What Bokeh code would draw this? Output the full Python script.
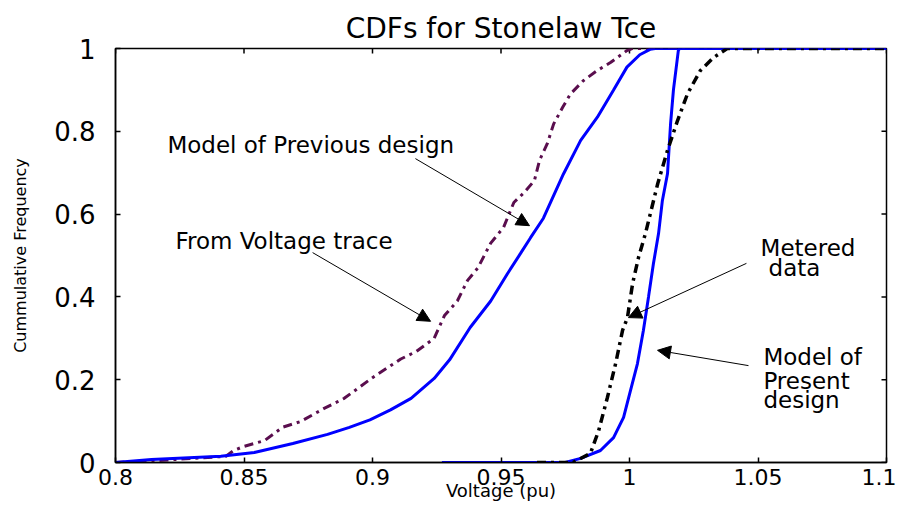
from bokeh.plotting import figure
from bokeh.models import Range1d, FixedTicker, Arrow, NormalHead, ColumnDataSource, Label
from bokeh.embed import file_html
from bokeh.resources import INLINE

# ---- data ----
trace_x = [0.800, 0.815, 0.830, 0.843, 0.846, 0.850, 0.858, 0.865, 0.872, 0.881, 0.889, 0.900,
           0.911, 0.917, 0.924, 0.928, 0.933, 0.937, 0.941, 0.946, 0.951, 0.955, 0.959, 0.963,
           0.965, 0.968, 0.9705, 0.974, 0.977, 0.982, 0.9875, 0.9926, 0.999, 1.001, 1.100]
trace_y = [0.000, 0.004, 0.010, 0.015, 0.029, 0.039, 0.053, 0.085, 0.099, 0.130, 0.155, 0.205,
           0.250, 0.268, 0.300, 0.355, 0.390, 0.440, 0.470, 0.530, 0.568, 0.628, 0.652, 0.681,
           0.730, 0.770, 0.818, 0.858, 0.890, 0.922, 0.947, 0.966, 0.995, 1.000, 1.000]

prev_x = [0.800, 0.814, 0.841, 0.854, 0.869, 0.8825, 0.891, 0.899, 0.907, 0.915, 0.924, 0.930,
          0.938, 0.946, 0.9525, 0.9576, 0.9615, 0.9665, 0.9743, 0.981, 0.9875, 0.9938, 0.999,
          1.004, 1.008, 1.010, 1.100]
prev_y = [0.000, 0.007, 0.015, 0.024, 0.046, 0.068, 0.085, 0.103, 0.127, 0.155, 0.203, 0.248,
          0.326, 0.390, 0.456, 0.505, 0.543, 0.590, 0.697, 0.778, 0.834, 0.900, 0.955,
          0.985, 0.998, 1.000, 1.000]

pres_x = [0.927, 0.975, 0.981, 0.9887, 0.9938, 0.9977, 1.0004, 1.0031, 1.0054, 1.0074, 1.0093,
          1.0113, 1.0128, 1.0148, 1.016, 1.0171, 1.019, 1.0195, 1.100]
pres_y = [0.000, 0.000, 0.010, 0.029, 0.060, 0.109, 0.174, 0.239, 0.319, 0.400, 0.480,
          0.553, 0.633, 0.698, 0.820, 0.900, 0.995, 1.000, 1.000]

meter_x = [0.964, 0.978, 0.9848, 0.988, 0.9914, 0.9946, 0.9973, 0.9992, 1.0012, 1.0035, 1.0062,
           1.011, 1.0148, 1.0187, 1.0226, 1.0276, 1.0327, 1.038, 1.100]
meter_y = [0.000, 0.000, 0.022, 0.077, 0.157, 0.239, 0.319, 0.350, 0.432, 0.495, 0.553,
           0.674, 0.754, 0.826, 0.891, 0.947, 0.978, 1.000, 1.000]

x_ticks = [0.8, 0.85, 0.9, 0.95, 1.0, 1.05, 1.1]
x_tick_labels = ["0.8", "0.85", "0.9", "0.95", "1", "1.05", "1.1"]
y_ticks = [0.0, 0.2, 0.4, 0.6, 0.8, 1.0]
y_tick_labels = ["0", "0.2", "0.4", "0.6", "0.8", "1"]

title_text = "CDFs for Stonelaw Tce"
x_label = "Voltage (pu)"
y_label = "Cummulative Frequency"

note_texts = ["Model of Previous design", "From Voltage trace", "Metered", "data",
              "Model of", "Present", "design"]
note_x = [0.8202, 0.8233, 1.051, 1.0541, 1.0521, 1.0521, 1.0521]
note_y = [0.768, 0.534, 0.519, 0.469, 0.254, 0.198, 0.150]

arrow_x0 = [0.9167, 0.8767, 1.0455, 1.0463]
arrow_y0 = [0.734, 0.507, 0.481, 0.234]
arrow_x1 = [0.9611, 0.9226, 0.9996, 1.0109]
arrow_y1 = [0.572, 0.341, 0.350, 0.271]

FONT = "DejaVu Sans"
X0, X1, Y0, Y1 = 0.8, 1.1, 0.0, 1.0
TICK_DY = 0.0121   # ~5 px inward
TICK_DX = 0.00195  # ~5 px inward

p = figure(width=896, height=507, output_backend="svg", toolbar_location=None,
           x_range=Range1d(X0, X1), y_range=Range1d(Y0, Y1),
           min_border_left=115, min_border_right=10, min_border_top=48, min_border_bottom=45)
p.background_fill_color = "white"
p.border_fill_color = "white"
p.grid.visible = False
p.outline_line_color = "black"
p.outline_line_width = 1.5

p.title.text = title_text
p.title.text_font = FONT
p.title.text_font_size = "28px"
p.title.text_font_style = "normal"
p.title.text_color = "black"
p.title.align = "center"
p.title.standoff = 8

for ax, ticks, labels in ((p.xaxis[0], x_ticks, x_tick_labels), (p.yaxis[0], y_ticks, y_tick_labels)):
    ax.ticker = FixedTicker(ticks=ticks)
    ax.major_label_overrides = {t: l for t, l in zip(ticks, labels)}
    ax.major_tick_in = 5
    ax.major_tick_out = 0
    ax.minor_tick_line_color = None
    ax.axis_line_width = 1.5
    ax.major_tick_line_width = 1.5
    ax.major_label_text_font = FONT
    ax.major_label_text_color = "black"
    ax.axis_label_text_font = FONT
    ax.axis_label_text_font_style = "normal"
    ax.axis_label_text_color = "black"

p.xaxis[0].major_label_text_font_size = "22px"
p.xaxis[0].major_label_standoff = 6
p.xaxis[0].axis_label = x_label
p.xaxis[0].axis_label_text_font_size = "18px"
p.xaxis[0].axis_label_standoff = -8

p.yaxis[0].major_label_text_font_size = "26px"
p.yaxis[0].major_label_standoff = 20
p.yaxis[0].axis_label = y_label
p.yaxis[0].axis_label_text_font_size = "16px"
p.yaxis[0].axis_label_standoff = 21

# inward ticks on the top and right edges (box style)
p.segment(x0=x_ticks, y0=[Y1] * len(x_ticks), x1=x_ticks, y1=[Y1 - TICK_DY] * len(x_ticks),
          line_color="black", line_width=1.5)
p.segment(x0=[X1] * len(y_ticks), y0=y_ticks, x1=[X1 - TICK_DX] * len(y_ticks), y1=y_ticks,
          line_color="black", line_width=1.5)

p.line(trace_x, trace_y, line_color="#5a0e4e", line_width=3, line_dash="9 5 3 5")
p.line(prev_x, prev_y, line_color="#0000ff", line_width=3)
p.line(pres_x, pres_y, line_color="#0000ff", line_width=3)
p.line(meter_x, meter_y, line_color="black", line_width=3.5, line_dash="9 5 3 5")

arrows = ColumnDataSource(dict(x0=arrow_x0, y0=arrow_y0, x1=arrow_x1, y1=arrow_y1))
p.add_layout(Arrow(source=arrows, x_start="x0", y_start="y0", x_end="x1", y_end="y1",
                   line_color="black", line_width=1,
                   end=NormalHead(size=13, fill_color="black", line_color="black")))

for t, x, y in zip(note_texts, note_x, note_y):
    p.add_layout(Label(x=x, y=y, text=t, text_font=FONT, text_font_size="23px",
                       text_baseline="alphabetic", text_align="left", text_color="black"))

open("out.html", "w").write(file_html(p, INLINE))
